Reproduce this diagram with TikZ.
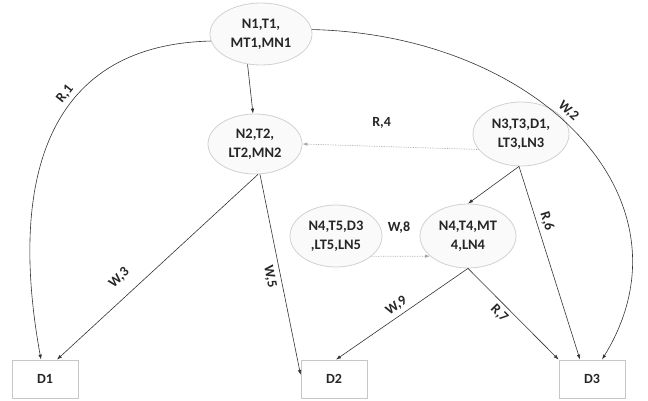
\documentclass[tikz,border=0pt]{standalone}
\usepackage{fontspec}
\setmainfont{Carlito}
\usetikzlibrary{arrows.meta,shapes.geometric}
\begin{document}
\begin{tikzpicture}[x=1pt,y=-1pt,
  ell/.style={ellipse, draw=black!18, fill=blue!2!black!2, line width=0.8pt, align=center,
    inner sep=0pt, font=\bfseries\fontsize{14.5}{19}\selectfont, text=black!85},
  dbox/.style={rectangle, draw=black!22, fill=white, line width=0.8pt, minimum width=66pt,
    minimum height=38pt, font=\bfseries\fontsize{14}{16}\selectfont, text=black!85},
  conn/.style={-{Latex[length=5pt,width=3.5pt]}, draw=black!80, line width=0.6pt},
  dconn/.style={-{Latex[length=5pt,width=3.5pt]}, draw=black!35, densely dotted, line width=0.7pt},
  lbltxt/.style={font=\bfseries\fontsize{14}{16}\selectfont, text=black!85},
  lbl/.style={lbltxt, sloped, inner sep=2pt}
]
\useasboundingbox (0,0) rectangle (648,401);
\node[ell, minimum width=102pt, minimum height=62pt] (n1) at (261,34) {N1,T1,\\MT1,MN1};
\node[ell, minimum width=94pt, minimum height=60pt] (n2) at (255,144) {N2,T2,\\LT2,MN2};
\node[ell, minimum width=96pt, minimum height=64pt] (n3) at (521,134) {N3,T3,D1,\\LT3,LN3};
\node[ell, minimum width=96pt, minimum height=64pt] (n4) at (468,236) {N4,T4,MT\\4,LN4};
\node[ell, minimum width=92pt, minimum height=62pt] (n5) at (336,236) {N4,T5,D3\\,LT5,LN5};
\node[dbox] (d1) at (45,379) {D1};
\node[dbox] (d2) at (334,379) {D2};
\node[dbox] (d3) at (592,379) {D3};
% N1 edges
\draw[conn] (n1.188) .. controls (40,45) and (10,190) .. node[lbl, above=2pt, pos=0.38] {R,1} ([xshift=-4pt]d1.north);
\draw[conn] (n1.5) .. controls (540,35) and (700,200) .. node[lbl, above=3pt, pos=0.45] {W,2} ([xshift=10pt]d3.north);
\draw[conn] (n1.246) -- ([xshift=-2pt]n2.north);
% N2 edges
\draw[conn] ([xshift=3pt]n2.south) -- node[lbl, above=10pt, pos=0.63] {W,3} ([xshift=12pt]d1.north);
\draw[conn] ([xshift=5pt]n2.south) -- node[lbl, below=3pt, pos=0.5] {W,5} ([yshift=4pt]d2.west);
% N3 edges
\draw[dconn] (n3.200) -- node[lbltxt, above=14pt, pos=0.55] {R,4} (n2.east);
\draw[conn] ([xshift=-2pt]n3.south) -- (n4.north);
\draw[conn] ([xshift=-2pt]n3.south) -- node[lbl, above=2pt, pos=0.3] {R,6} ([xshift=-12pt]d3.north);
% N5 -> N4
\draw[dconn] (n5.-30) -- (n4.208);
\node[lbltxt] (w8) at (399,228) {W,8};
% N4 edges
\draw[conn] (n4.south) -- node[lbl, above=2pt, pos=0.5] {W,9} ([xshift=2pt]d2.north);
\draw[conn] (n4.south) -- node[lbl, below=2pt, pos=0.42] {R,7} (d3.north west);
\end{tikzpicture}
\end{document}
